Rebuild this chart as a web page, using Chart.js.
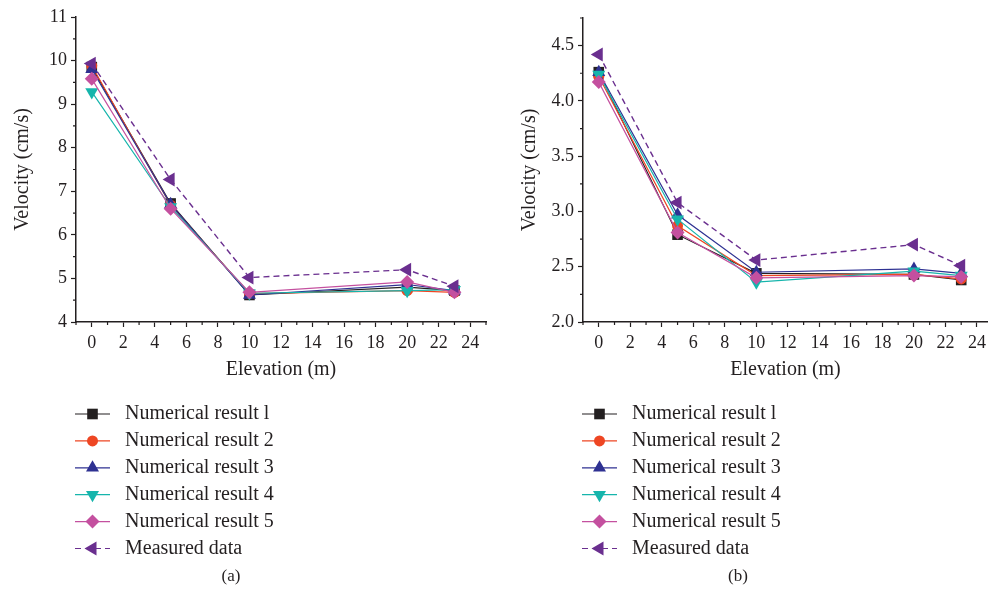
<!DOCTYPE html>
<html>
<head>
<meta charset="utf-8">
<script src="https://cdn.jsdelivr.net/npm/chart.js@4/dist/chart.umd.min.js"></script>
<style>
  html, body { margin: 0; padding: 0; background: #fff; }
  #wrap { position: relative; width: 988px; height: 597px; overflow: hidden; }
  canvas { position: absolute; top: 0; }
  #chartA { left: 0; }
  #chartB { left: 507px; }
</style>
</head>
<body>
<div id="wrap">
  <canvas id="chartA" width="494" height="597"></canvas>
  <canvas id="chartB" width="489" height="597"></canvas>
</div>
<script>
var elevation = [0, 5, 10, 20, 23];
var seriesNames = ["Numerical result l", "Numerical result 2", "Numerical result 3",
                   "Numerical result 4", "Numerical result 5", "Measured data"];
var xTicks = [0, 2, 4, 6, 8, 10, 12, 14, 16, 18, 20, 22, 24];
var yTicksA = [4, 5, 6, 7, 8, 9, 10, 11];
var yTicksB = [2.0, 2.5, 3.0, 3.5, 4.0, 4.5];

// panel (a) velocities, cm/s
var numA1 = [9.85, 6.72, 4.62, 4.80, 4.72];
var numA2 = [9.88, 6.68, 4.65, 4.72, 4.68];
var numA3 = [9.80, 6.70, 4.62, 4.86, 4.72];
var numA4 = [9.28, 6.64, 4.66, 4.72, 4.74];
var numA5 = [9.58, 6.60, 4.68, 4.92, 4.68];
var measA = [9.93, 7.27, 5.02, 5.20, 4.82];

// panel (b) velocities, cm/s
var numB1 = [4.26, 2.79, 2.44, 2.43, 2.38];
var numB2 = [4.22, 2.87, 2.42, 2.43, 2.39];
var numB3 = [4.26, 2.97, 2.45, 2.48, 2.44];
var numB4 = [4.24, 2.93, 2.36, 2.46, 2.42];
var numB5 = [4.17, 2.81, 2.40, 2.42, 2.41];
var measB = [4.42, 3.08, 2.56, 2.70, 2.51];

var INK = "#231f20";
var SERIF = "'Liberation Serif', 'DejaVu Serif', serif";

var styles = [
  { color: "#231f20", pointStyle: "rect", radius: 7.5, rotation: 0, dash: [] },
  { color: "#ee4623", pointStyle: "circle", radius: 5.5, rotation: 0, dash: [] },
  { color: "#2e3192", pointStyle: "triangle", radius: 7.5, rotation: 0, dash: [] },
  { color: "#16b5ac", pointStyle: "triangle", radius: 7.5, rotation: 180, dash: [] },
  { color: "#c4509f", pointStyle: "rectRot", radius: 7, rotation: 0, dash: [] },
  { color: "#6a2f8f", pointStyle: "triangle", radius: 8, rotation: -90, dash: [6, 4] }
];

function makeDatasets(seriesList) {
  return seriesList.map(function (vals, i) {
    var s = styles[i];
    return {
      label: seriesNames[i],
      data: elevation.map(function (x, j) { return { x: x, y: vals[j] }; }),
      borderColor: s.color,
      backgroundColor: s.color,
      borderWidth: i === 5 ? 1.4 : 1.2,
      borderDash: s.dash,
      pointStyle: s.pointStyle,
      pointRadius: s.radius,
      pointHoverRadius: s.radius,
      pointRotation: s.rotation,
      pointBackgroundColor: s.color,
      pointBorderColor: s.color,
      pointBorderWidth: 0,
      tension: 0,
      order: seriesList.length - 1 - i
    };
  });
}

// short ticks between the labelled ones
var minorTicks = {
  id: "minorTicks",
  afterDraw: function (chart, args, opts) {
    var ctx = chart.ctx, xs = chart.scales.x, ys = chart.scales.y;
    ctx.save();
    ctx.strokeStyle = INK;
    ctx.lineWidth = 1.2;
    ctx.beginPath();
    for (var v = Math.ceil(xs.min); v <= xs.max + 1e-9; v += 1) {
      if (v % 2 === 0) continue;
      var px = xs.getPixelForValue(v);
      ctx.moveTo(px, ys.bottom);
      ctx.lineTo(px, ys.bottom + 3);
    }
    var n = Math.round((ys.max - ys.min) / opts.yStep);
    for (var k = 0; k <= n; k++) {
      var yv = ys.min + k * opts.yStep;
      if (k % 2 === 0) continue;
      var py = ys.getPixelForValue(yv);
      ctx.moveTo(xs.left, py);
      ctx.lineTo(xs.left - 3, py);
    }
    ctx.stroke();
    ctx.restore();
  }
};

// legend rows under the plot plus the panel caption
var panelLegend = {
  id: "panelLegend",
  afterDraw: function (chart, args, opts) {
    var ctx = chart.ctx;
    ctx.save();
    chart.data.datasets.forEach(function (ds, i) {
      var y = opts.top + i * opts.step;
      ctx.strokeStyle = ds.borderColor;
      ctx.lineWidth = 1.2;
      ctx.setLineDash(ds.borderDash);
      ctx.beginPath();
      ctx.moveTo(opts.lineX0, y);
      ctx.lineTo(opts.lineX1, y);
      ctx.stroke();
      ctx.setLineDash([]);
      ctx.fillStyle = ds.pointBackgroundColor;
      Chart.helpers.drawPoint(ctx, {
        pointStyle: ds.pointStyle, radius: ds.pointRadius,
        rotation: ds.pointRotation, borderWidth: 0
      }, opts.markerX, y);
      ctx.fillStyle = INK;
      ctx.font = "20px " + SERIF;
      ctx.textAlign = "left";
      ctx.textBaseline = "middle";
      ctx.fillText(ds.label, opts.textX, y);
    });
    ctx.font = "17px " + SERIF;
    ctx.textAlign = "center";
    ctx.fillText(opts.caption, opts.captionX, opts.captionY);
    ctx.restore();
  }
};

function makeChart(canvasId, seriesList, yTicks, yMin, yMax, yStep, xMax, padTop, caption, decimals, padRight) {
  var canvas = document.getElementById(canvasId);
  return new Chart(canvas, {
    type: "line",
    data: { datasets: makeDatasets(seriesList) },
    plugins: [minorTicks, panelLegend],
    options: {
      responsive: false,
      animation: false,
      events: [],
      layout: { padding: { top: padTop, left: 0, right: padRight, bottom: 215 } },
      plugins: {
        legend: { display: false },
        tooltip: { enabled: false },
        minorTicks: { yStep: yStep / 2 },
        panelLegend: {
          top: 414, step: 26.9, lineX0: 75, lineX1: 110, markerX: 92.5, textX: 125,
          caption: caption, captionX: 231, captionY: 577
        }
      },
      scales: {
        x: {
          type: "linear",
          min: -1,
          max: xMax,
          afterBuildTicks: function (s) { s.ticks = xTicks.map(function (v) { return { value: v }; }); },
          afterFit: function (s) { s.height = 60; s.paddingLeft = 0; s.paddingRight = 0; },
          border: { display: true, color: INK, width: 1.5 },
          grid: { drawOnChartArea: false, drawTicks: true, tickLength: 5, tickColor: INK, tickWidth: 1.2 },
          ticks: { color: INK, padding: 5, maxRotation: 0, autoSkip: false, font: { family: SERIF, size: 18 } },
          title: { display: true, text: "Elevation (m)", color: INK, padding: 0, font: { family: SERIF, size: 20 } }
        },
        y: {
          type: "linear",
          min: yMin,
          max: yMax,
          afterBuildTicks: function (s) { s.ticks = yTicks.map(function (v) { return { value: v }; }); },
          afterFit: function (s) { s.width = 76; s.paddingTop = 0; s.paddingBottom = 0; },
          border: { display: true, color: INK, width: 1.5 },
          grid: { drawOnChartArea: false, drawTicks: true, tickLength: 5, tickColor: INK, tickWidth: 1.2 },
          ticks: {
            color: INK, padding: 4, autoSkip: false, font: { family: SERIF, size: 18 },
            callback: function (v) { return v.toFixed(decimals); }
          },
          title: { display: true, text: "Velocity (cm/s)", color: INK, padding: { top: 11, bottom: 0 }, font: { family: SERIF, size: 20 } }
        }
      }
    }
  });
}

makeChart("chartA", [numA1, numA2, numA3, numA4, numA5, measA], yTicksA, 4, 11, 1, 25, 17, "(a)", 0, 7);
makeChart("chartB", [numB1, numB2, numB3, numB4, numB5, measB], yTicksB, 2.0, 4.75, 0.5, 24.7, 18, "(b)", 1, 0);
</script>
</body>
</html>
